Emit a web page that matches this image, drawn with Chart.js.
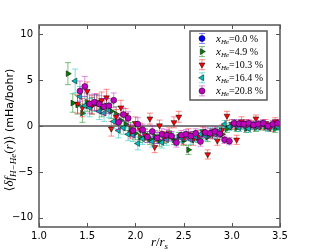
<!DOCTYPE html>
<html>
<head>
<meta charset="utf-8">
<script src="https://cdn.jsdelivr.net/npm/chart.js@4/dist/chart.umd.min.js"></script>
<style>
  html, body { margin: 0; padding: 0; background: #fff; }
</style>
</head>
<body>
<canvas id="chart" width="312" height="252"></canvas>
<script>
// r/r_s grids
const rA = [1.30, 1.35, 1.40, 1.45, 1.50, 1.55, 1.60, 1.65, 1.70, 1.75,
            1.80, 1.85, 1.90, 1.95, 2.00, 2.05, 2.10, 2.15, 2.20, 2.25,
            2.30, 2.35, 2.40, 2.45, 2.50, 2.55, 2.60, 2.65, 2.70, 2.75,
            2.80, 2.85, 2.90, 2.95, 3.00, 3.05, 3.10, 3.15, 3.20, 3.25,
            3.30, 3.35, 3.40, 3.45, 3.50];
const rB = [1.325, 1.375, 1.425, 1.475, 1.525, 1.575, 1.625, 1.675, 1.725, 1.775,
            1.825, 1.875, 1.925, 1.975, 2.025, 2.075, 2.125, 2.175, 2.225, 2.275,
            2.325, 2.375, 2.425, 2.475, 2.525, 2.575, 2.625, 2.675, 2.725, 2.775,
            2.825, 2.875, 2.925, 2.975, 3.025, 3.075, 3.125, 3.175, 3.225, 3.275,
            3.325, 3.375, 3.425, 3.475];

// x_He = 0.0 % : no H-He pairs, nothing plotted
const he00 = [];
const he00Err = [];

// x_He = 4.9 % (on rA)
const he49 = [5.7, 2.5, 2.3, 1.4, 2.6, 2.2, 2.5, 1.9, 2.2, 1.6,
              1.3, 0.6, 0.2, -0.3, -0.8, -1.2, -0.9, -1.4, -1.1, -1.6,
              -1.3, -1.0, -1.5, -1.2, -1.6, -2.6, -1.1, -1.3, -0.9, -1.2,
              -0.8, -0.6, -0.9, -0.3, 0.0, -0.2, 0.1, -0.3, 0.0, -0.2,
              0.1, -0.1, 0.0, -0.3, 0.1];
const he49Err = [1.2, 1.0, 1.0, 1.0, 1.0, 0.9, 0.9, 0.9, 0.8, 0.8,
                 0.8, 0.7, 0.7, 0.7, 0.7, 0.6, 0.6, 0.6, 0.6, 0.6,
                 0.6, 0.5, 0.5, 0.5, 0.5, 0.5, 0.5, 0.5, 0.5, 0.5,
                 0.5, 0.4, 0.4, 0.4, 0.4, 0.4, 0.4, 0.4, 0.4, 0.4,
                 0.4, 0.4, 0.4, 0.4, 0.4];

// x_He = 10.3 % (on rA)
const he103 = [null, null, 2.4, 2.0, 3.8, 2.3, 2.6, 2.8, 3.1, -0.3,
               1.0, 2.0, 1.2, -0.7, 0.3, -0.4, -1.0, 0.8, -2.3, 0.05,
               -1.2, -0.8, 0.4, 1.0, -1.4, -0.9, -1.5, -1.0, -0.6, -3.1,
               -0.9, -1.6, -0.4, 1.1, 0.2, -1.5, 0.5, 0.3, 0.2, 0.8,
               0.0, 0.3, -0.2, 0.5, 0.3];
const he103Err = [null, null, 1.0, 1.0, 1.0, 1.0, 0.9, 0.9, 0.9, 0.8,
                  0.8, 0.8, 0.7, 0.7, 0.7, 0.7, 0.6, 0.6, 0.6, 0.6,
                  0.6, 0.6, 0.6, 0.6, 0.6, 0.6, 0.6, 0.5, 0.5, 0.5,
                  0.5, 0.5, 0.5, 0.5, 0.5, 0.5, 0.5, 0.4, 0.4, 0.4,
                  0.4, 0.4, 0.4, 0.4, 0.4];

// x_He = 16.4 % (on rB)
const he164 = [null, 4.9, 3.2, 2.2, 2.0, 2.5, 1.6, 1.4, 1.7, 0.5,
               -0.5, -0.2, -0.9, -1.0, -1.9, -1.4, -1.2, -1.7, -1.3, -1.8,
               -1.5, -1.2, -1.6, -1.3, -1.1, -1.5, -1.2, -0.9, -1.1, -0.7,
               -0.9, -0.5, 0.2, -0.1, 0.3, -0.2, 0.0, -0.3, 0.1, -0.1,
               0.2, -0.2, 0.0, -0.1];
const he164Err = [null, 1.3, 1.1, 1.0, 1.0, 0.9, 0.9, 0.9, 0.8, 0.8,
                  0.8, 0.7, 0.7, 0.7, 0.7, 0.6, 0.6, 0.6, 0.6, 0.6,
                  0.6, 0.5, 0.5, 0.5, 0.5, 0.5, 0.5, 0.5, 0.5, 0.5,
                  0.5, 0.4, 0.4, 0.4, 0.4, 0.4, 0.4, 0.4, 0.4, 0.4,
                  0.4, 0.4, 0.4, 0.4];

// x_He = 20.8 % (on rB)
const he208 = [null, null, 3.8, 4.3, 2.4, 2.6, 2.4, 2.1, 2.2, 2.8,
               0.4, 1.25, 0.85, -0.5, 0.2, -0.4, -1.2, -0.6, -1.3, -0.9,
               -1.0, -1.1, -1.8, -1.0, -0.9, -1.1, -0.8, -1.7, -0.7, -0.8,
               -0.6, -0.85, -1.5, -1.65, 0.3, 0.25, 0.2, 0.3, 0.1, 0.2,
               0.3, 0.0, 0.2, 0.3];
const he208Err = [null, null, 1.1, 1.1, 1.0, 0.9, 0.9, 0.9, 0.8, 0.8,
                  0.8, 0.7, 0.7, 0.7, 0.7, 0.6, 0.6, 0.6, 0.6, 0.6,
                  0.6, 0.5, 0.5, 0.5, 0.5, 0.5, 0.5, 0.5, 0.5, 0.5,
                  0.5, 0.4, 0.4, 0.4, 0.4, 0.4, 0.4, 0.4, 0.4, 0.4,
                  0.4, 0.4, 0.4, 0.4];

const heFractions = ['0.0', '4.9', '10.3', '16.4', '20.8'];
const xTicks = [1.0, 1.5, 2.0, 2.5, 3.0, 3.5];
const yTicks = [-10, -5, 0, 5, 10];

function points(r, v, e) {
    const out = [];
    v.forEach((y, i) => {
        if (y !== null) out.push({ x: r[i], y: y, e: e[i] });
    });
    return out;
}

const series = [
    { data: points(rA, he00, he00Err), color: '#0000ff', err: 'rgba(0,0,255,0.45)', style: 'circle', rot: 0, size: 3 },
    { data: points(rA, he49, he49Err), color: '#008000', err: 'rgba(0,128,0,0.5)', style: 'triangle', rot: 90, size: 3.4 },
    { data: points(rA, he103, he103Err), color: '#ff0000', err: 'rgba(255,0,0,0.45)', style: 'triangle', rot: 180, size: 3.4 },
    { data: points(rB, he164, he164Err), color: '#00bfbf', err: 'rgba(0,191,191,0.5)', style: 'triangle', rot: 270, size: 3.4 },
    { data: points(rB, he208, he208Err), color: '#bf00bf', err: 'rgba(191,0,191,0.45)', style: 'circle', rot: 0, size: 3 }
];

// draw a line of mixed-font text runs
function runsWidth(ctx, runs) {
    let w = 0;
    runs.forEach(r => { ctx.font = r.f; w += ctx.measureText(r.t).width; });
    return w;
}
function drawRuns(ctx, runs, x, y) {
    let cx = x;
    runs.forEach(r => {
        ctx.font = r.f;
        ctx.fillText(r.t, cx, y + (r.dy || 0));
        cx += ctx.measureText(r.t).width;
    });
}

const SERIF = 'Liberation Serif';
const frameColor = '#555555';

const errorBars = {
    id: 'errorBars',
    beforeDatasetDraw(chart, args) {
        const ds = chart.data.datasets[args.index];
        const { ctx, chartArea: a, scales: { x, y } } = chart;
        ctx.save();
        ctx.beginPath();
        ctx.rect(a.left, a.top, a.right - a.left, a.bottom - a.top);
        ctx.clip();
        ctx.strokeStyle = ds.errColor;
        ctx.lineWidth = 1;
        ds.data.forEach(p => {
            const px = x.getPixelForValue(p.x);
            const top = y.getPixelForValue(p.y + p.e);
            const bot = y.getPixelForValue(p.y - p.e);
            ctx.beginPath();
            ctx.moveTo(px, top); ctx.lineTo(px, bot);
            ctx.moveTo(px - 3, top); ctx.lineTo(px + 3, top);
            ctx.moveTo(px - 3, bot); ctx.lineTo(px + 3, bot);
            ctx.stroke();
        });
        ctx.restore();
    }
};

const zeroLine = {
    id: 'zeroLine',
    beforeDatasetsDraw(chart) {
        const { ctx, chartArea: a, scales: { y } } = chart;
        const py = y.getPixelForValue(0);
        ctx.save();
        ctx.strokeStyle = '#7f7f7f';
        ctx.lineWidth = 2;
        ctx.beginPath();
        ctx.moveTo(a.left, py); ctx.lineTo(a.right, py);
        ctx.stroke();
        ctx.restore();
    }
};

const frameAndLabels = {
    id: 'frameAndLabels',
    afterDraw(chart) {
        const { ctx, chartArea: a, scales: { x, y } } = chart;
        ctx.save();
        // ticks on all four sides, pointing inward
        ctx.strokeStyle = frameColor;
        ctx.lineWidth = 1;
        ctx.beginPath();
        xTicks.forEach(v => {
            const px = Math.round(x.getPixelForValue(v)) + 0.5;
            ctx.moveTo(px, a.bottom); ctx.lineTo(px, a.bottom - 4);
            ctx.moveTo(px, a.top); ctx.lineTo(px, a.top + 4);
        });
        yTicks.forEach(v => {
            const py = Math.round(y.getPixelForValue(v)) + 0.5;
            ctx.moveTo(a.left, py); ctx.lineTo(a.left + 4, py);
            ctx.moveTo(a.right, py); ctx.lineTo(a.right - 4, py);
        });
        ctx.stroke();
        // frame
        ctx.lineWidth = 1.5;
        ctx.strokeRect(a.left, a.top, a.right - a.left, a.bottom - a.top);

        // legend
        const lx = 190, ly = 31, lw = 77, lh = 69;
        ctx.fillStyle = '#fff';
        ctx.fillRect(lx, ly, lw, lh);
        ctx.lineWidth = 1.5;
        ctx.strokeStyle = frameColor;
        ctx.strokeRect(lx, ly, lw, lh);
        series.forEach((s, i) => {
            const cy = 38.5 + i * 13.1;
            const mx = 202;
            ctx.strokeStyle = s.err;
            ctx.lineWidth = 1;
            ctx.beginPath();
            ctx.moveTo(mx, cy - 5); ctx.lineTo(mx, cy + 5);
            ctx.moveTo(mx - 3, cy - 5); ctx.lineTo(mx + 3, cy - 5);
            ctx.moveTo(mx - 3, cy + 5); ctx.lineTo(mx + 3, cy + 5);
            ctx.stroke();
            ctx.fillStyle = s.color;
            ctx.strokeStyle = '#000';
            ctx.lineWidth = 0.5;
            Chart.helpers.drawPoint(ctx, { pointStyle: s.style, rotation: s.rot, radius: s.size, borderWidth: 0.5 }, mx, cy);
            ctx.fillStyle = '#000';
            ctx.textBaseline = 'alphabetic';
            ctx.textAlign = 'left';
            drawRuns(ctx, [
                { t: 'x', f: 'italic 11px "' + SERIF + '"' },
                { t: 'He', f: 'italic 7px "' + SERIF + '"', dy: 2 },
                { t: '=' + heFractions[i] + ' %', f: '10px "' + SERIF + '"' }
            ], 216, cy + 3.5);
        });

        // x axis label
        ctx.fillStyle = '#000';
        const xRuns = [
            { t: 'r', f: 'italic 13px "' + SERIF + '"' },
            { t: '/', f: '13px "' + SERIF + '"' },
            { t: 'r', f: 'italic 13px "' + SERIF + '"' },
            { t: 's', f: 'italic 9px "' + SERIF + '"', dy: 3 }
        ];
        const xw = runsWidth(ctx, xRuns);
        drawRuns(ctx, xRuns, (a.left + a.right) / 2 - xw / 2, 246);

        // y axis label
        const yRuns = [
            { t: '\u27e8', f: '12px "DejaVu Sans"' },
            { t: '\u03b4f', f: 'italic 13px "' + SERIF + '"' },
            { t: 'H\u2212He', f: 'italic 9px "' + SERIF + '"', dy: 3 },
            { t: '(', f: '13px "' + SERIF + '"' },
            { t: 'r', f: 'italic 13px "' + SERIF + '"' },
            { t: ')', f: '13px "' + SERIF + '"' },
            { t: '\u27e9', f: '12px "DejaVu Sans"' },
            { t: ' (mHa/bohr)', f: '11px "DejaVu Sans"' }
        ];
        const yw = runsWidth(ctx, yRuns);
        ctx.translate(13, 130);
        ctx.rotate(-Math.PI / 2);
        drawRuns(ctx, yRuns, -yw / 2, 0);
        ctx.restore();
    }
};

new Chart(document.getElementById('chart'), {
    type: 'scatter',
    data: {
        datasets: series.map((s, i) => ({
            label: 'x_He=' + heFractions[i] + ' %',
            data: s.data,
            errColor: s.err,
            backgroundColor: s.color,
            borderColor: '#000',
            borderWidth: 0.5,
            pointStyle: s.style,
            pointRotation: s.rot,
            pointRadius: s.size,
            showLine: false,
            order: series.length - i
        }))
    },
    options: {
        responsive: false,
        animation: false,
        layout: { padding: { top: 25, right: 32, left: 0, bottom: 0 } },
        plugins: {
            legend: { display: false },
            tooltip: { enabled: false }
        },
        scales: {
            x: {
                type: 'linear',
                min: 1.0,
                max: 3.5,
                afterBuildTicks: scale => { scale.ticks = xTicks.map(v => ({ value: v })); },
                afterFit: scale => { scale.height = 25; },
                grid: { display: false, drawTicks: false },
                border: { display: false },
                ticks: {
                    padding: 3,
                    color: '#000',
                    font: { family: 'DejaVu Sans', size: 10 },
                    callback: v => v.toFixed(1)
                }
            },
            y: {
                type: 'linear',
                min: -11,
                max: 11,
                afterBuildTicks: scale => { scale.ticks = yTicks.map(v => ({ value: v })); },
                afterFit: scale => { scale.width = 39; },
                grid: { display: false, drawTicks: false },
                border: { display: false },
                ticks: {
                    padding: 6,
                    color: '#000',
                    font: { family: 'DejaVu Sans', size: 10 },
                    callback: v => String(v).replace('-', '\u2212')
                }
            }
        }
    },
    plugins: [zeroLine, errorBars, frameAndLabels]
});
</script>
</body>
</html>
